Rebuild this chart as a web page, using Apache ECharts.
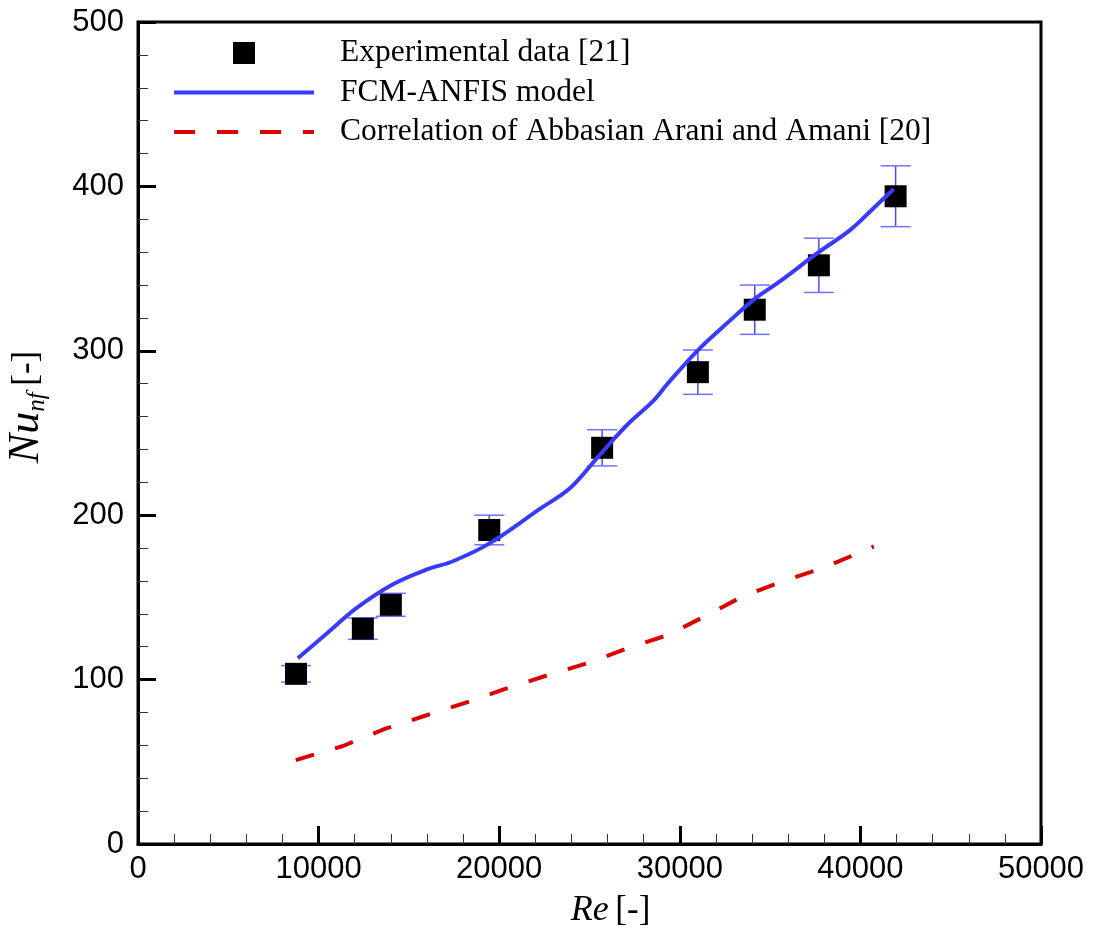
<!DOCTYPE html>
<html>
<head>
<meta charset="utf-8">
<script src="https://cdn.jsdelivr.net/npm/echarts@6/dist/echarts.min.js"></script>
<style>
html,body{margin:0;padding:0;background:#fff;}
#chart{width:1094px;height:934px;}
</style>
</head>
<body>
<div id="chart"></div>
<script>
// Experimental data [21]
var expRe = [8750, 12450, 14000, 19450, 25700, 31000, 34150, 37700, 41950];
var expNu = [103.5, 131, 145.5, 191, 241, 287, 325, 352, 394];
var expErr = [5, 6.5, 7, 9, 11, 13.5, 15, 16.5, 18.5];

// FCM-ANFIS model
var fcmRe = [8850, 10450, 12110, 14120, 16000, 17440, 19490, 22270, 23930, 25590, 27090, 28530, 29310, 30970, 32640, 34080, 35580, 37630, 39460, 40740, 41850];
var fcmNu = [113, 128, 143.6, 158, 167, 172, 183, 204, 216.5, 237, 255, 269.5, 279.8, 300, 317, 331, 342.5, 359.5, 373.7, 386.9, 398.4];

// Correlation of Abbasian Arani and Amani [20]
var corrRe = [8735, 11350, 13670, 15890, 18110, 20330, 22550, 24880, 27090, 29310, 31420, 33530, 35750, 37970, 40740];
var corrNu = [51, 59.6, 70, 78, 85.8, 94.3, 102.2, 110, 119, 127, 138.7, 150.9, 160, 168, 181];

var seriesNames = ['Experimental data [21]', 'FCM-ANFIS model', 'Correlation of Abbasian Arani and Amani [20]'];
var xTicks = [0, 10000, 20000, 30000, 40000, 50000];
var yTicks = [0, 100, 200, 300, 400, 500];

function zip(a, b) { return a.map(function (v, i) { return [v, b[i]]; }); }
var errData = expRe.map(function (v, i) { return [v, expNu[i] - expErr[i], expNu[i] + expErr[i]]; });

var chart = echarts.init(document.getElementById('chart'), null, {renderer: 'canvas'});
var serif = 'Liberation Serif, Times New Roman, serif';
var sans = 'Liberation Sans, Arial, sans-serif';

chart.setOption({
  animation: false,
  backgroundColor: '#fff',
  grid: {left: 138, top: 22, right: 53, bottom: 90, containLabel: false, outerBoundsMode: 'none', show: true, borderColor: '#000', borderWidth: 3, backgroundColor: 'transparent'},
  legend: {
    orient: 'vertical', left: 172, top: 37, padding: 0,
    itemWidth: 140, itemHeight: 22, itemGap: 7.5,
    textStyle: {fontFamily: serif, fontSize: 31.5, lineHeight: 31, color: '#000', padding: [0, 0, 0, 21]},
    data: [
      {name: seriesNames[0], icon: 'path://M0,0L10,0L10,10L0,10Z', itemStyle: {color: '#000', opacity: 1}},
      {name: seriesNames[1], itemStyle: {opacity: 0}, lineStyle: {width: 4, color: '#3a3aff', type: 'solid'}},
      {name: seriesNames[2], itemStyle: {opacity: 0}, lineStyle: {width: 4, color: '#dd0000', type: [21, 22]}}
    ]
  },
  xAxis: {
    type: 'value', min: xTicks[0], max: xTicks[xTicks.length - 1], interval: 10000,
    name: '{i|Re}  {n|[-]}', nameLocation: 'middle', nameGap: 49,
    nameTextStyle: {padding: [0, 0, 0, 42], rich: {
      i: {fontFamily: serif, fontStyle: 'italic', fontSize: 36, color: '#000'},
      n: {fontFamily: serif, fontSize: 35, color: '#000'}
    }},
    axisLine: {show: true, lineStyle: {color: '#000', width: 3}},
    axisTick: {show: true, inside: true, length: 18, lineStyle: {color: '#000', width: 3}},
    minorTick: {show: true, splitNumber: 5, length: 10, lineStyle: {color: '#333', width: 1}},
    splitLine: {show: false},
    axisLabel: {fontFamily: sans, fontSize: 31, color: '#000', margin: 10, formatter: function (v) { return String(v); }}
  },
  yAxis: {
    type: 'value', min: yTicks[0], max: yTicks[yTicks.length - 1], interval: 100,
    name: '{i|Nu}{s|nf}  {n|[-]}', nameLocation: 'middle', nameGap: 88, nameRotate: 90,
    nameTextStyle: {padding: [0, 0, 0, 52], rich: {
      i: {fontFamily: serif, fontStyle: 'italic', fontSize: 44, color: '#000'},
      s: {fontFamily: serif, fontStyle: 'italic', fontSize: 25, color: '#000', padding: [22, 0, 0, 0]},
      n: {fontFamily: serif, fontSize: 35, color: '#000'}
    }},
    axisLine: {show: true, lineStyle: {color: '#000', width: 3}},
    axisTick: {show: true, inside: true, length: 18, lineStyle: {color: '#000', width: 3}},
    minorTick: {show: true, splitNumber: 5, length: 10, lineStyle: {color: '#333', width: 1}},
    splitLine: {show: false},
    axisLabel: {fontFamily: sans, fontSize: 31, color: '#000', margin: 14, formatter: function (v) { return String(v); }}
  },
  series: [
    {
      name: 'errorbars', type: 'custom', z: 2, silent: true,
      data: errData,
      renderItem: function (params, api) {
        var x = api.value(0);
        var lo = api.coord([x, api.value(1)]);
        var hi = api.coord([x, api.value(2)]);
        var h = 15;
        var st = {stroke: '#4a4aff', lineWidth: 1.5};
        return {type: 'group', children: [
          {type: 'line', shape: {x1: lo[0], y1: lo[1], x2: hi[0], y2: hi[1]}, style: st},
          {type: 'line', shape: {x1: lo[0] - h, y1: lo[1], x2: lo[0] + h, y2: lo[1]}, style: {stroke: '#7070ff', lineWidth: 1.5}},
          {type: 'line', shape: {x1: hi[0] - h, y1: hi[1], x2: hi[0] + h, y2: hi[1]}, style: {stroke: '#7070ff', lineWidth: 1.5}}
        ]};
      }
    },
    {
      name: seriesNames[0], type: 'scatter', z: 3,
      symbol: 'rect', symbolSize: 22,
      itemStyle: {color: '#000', opacity: 1},
      data: zip(expRe, expNu)
    },
    {
      name: seriesNames[1], type: 'line', z: 4,
      symbol: 'none', smooth: 0.35,
      lineStyle: {color: '#3a3aff', width: 4},
      itemStyle: {color: '#3a3aff'},
      data: zip(fcmRe, fcmNu)
    },
    {
      name: seriesNames[2], type: 'line', z: 4,
      symbol: 'none', smooth: false,
      lineStyle: {color: '#dd0000', width: 4, type: [19, 22]},
      itemStyle: {color: '#dd0000'},
      data: zip(corrRe, corrNu)
    }
  ]
});
</script>
</body>
</html>
